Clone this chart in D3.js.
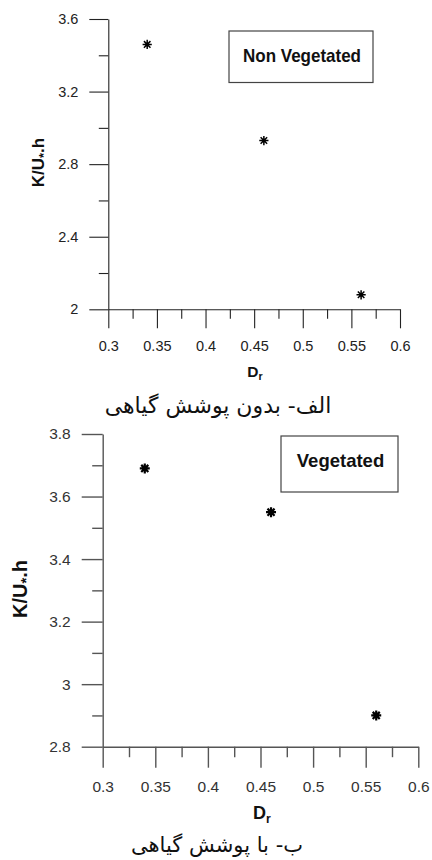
<!DOCTYPE html>
<html>
<head>
<meta charset="utf-8">
<script src="https://cdn.jsdelivr.net/npm/d3@7"></script>
<style>
  html, body { margin: 0; padding: 0; background: #fff; }
  svg { display: block; }
  text { font-family: Arial, "Liberation Sans", sans-serif; }
  .caption { font-family: "DejaVu Sans", sans-serif; }
</style>
</head>
<body>
<svg id="chart" width="432" height="860"></svg>
<script>
// data
const drValues = [0.34, 0.46, 0.56];
const nonVegetated = [3.46, 2.93, 2.08];
const vegetated = [3.69, 3.55, 2.90];

const xMajorTicks = [0.3, 0.35, 0.4, 0.45, 0.5, 0.55, 0.6];
const xMinorTicks = [0.325, 0.375, 0.425, 0.475, 0.525, 0.575];
const yMajorTop = [2, 2.4, 2.8, 3.2, 3.6];
const yMinorTop = [2.2, 2.6, 3.0, 3.4];
const yMajorBottom = [2.8, 3, 3.2, 3.4, 3.6, 3.8];
const yMinorBottom = [2.9, 3.1, 3.3, 3.5, 3.7];

const svg = d3.select("#chart");

// 8 armed asterisk, like the plotting program's marker
const star8 = {
    draw(ctx, size) {
        const r = Math.sqrt(size) / 2;
        for (let i = 0; i < 4; i++) {
            const a = i * Math.PI / 4;
            ctx.moveTo(r * Math.cos(a), r * Math.sin(a));
            ctx.lineTo(-r * Math.cos(a), -r * Math.sin(a));
        }
    }
};

const fmt = d => String(d);

function drawPanel(p) {
    const g = svg.append("g");
    const x = d3.scaleLinear().domain([0.3, 0.6]).range(p.xRange);
    const y = d3.scaleLinear().domain(p.yDomain).range(p.yRange);

    // minor ticks first, then major ticks with labels
    g.append("g")
        .attr("transform", `translate(0,${y(p.yDomain[0])})`)
        .call(d3.axisBottom(x).tickValues(xMinorTicks).tickSize(p.minor).tickFormat(""))
        .call(a => a.select(".domain").remove());
    g.append("g")
        .attr("transform", `translate(0,${y(p.yDomain[0])})`)
        .call(d3.axisBottom(x).tickValues(xMajorTicks).tickSize(p.major)
            .tickSizeOuter(0).tickPadding(p.xPad).tickFormat(fmt));

    g.append("g")
        .attr("transform", `translate(${x(0.3)},0)`)
        .call(d3.axisLeft(y).tickValues(p.yMinor).tickSize(p.minor).tickFormat(""))
        .call(a => a.select(".domain").remove());
    g.append("g")
        .attr("transform", `translate(${x(0.3)},0)`)
        .call(d3.axisLeft(y).tickValues(p.yMajor).tickSize(p.major)
            .tickSizeOuter(0).tickPadding(p.yPad).tickFormat(fmt));

    g.selectAll(".domain, .tick line")
        .attr("stroke", p.axisColor)
        .attr("stroke-width", p.axisWidth);
    g.selectAll(".tick text")
        .attr("fill", p.labelColor)
        .attr("font-size", p.tickFont)
        .attr("font-family", "Arial, 'Liberation Sans', sans-serif");

    // markers
    g.selectAll("path.pt")
        .data(drValues.map((d, i) => ({ x: d, y: p.values[i] })))
        .enter().append("path")
        .attr("class", "pt")
        .attr("transform", d => `translate(${x(d.x)},${y(d.y)})`)
        .attr("d", d3.symbol(star8, p.markerSize))
        .attr("fill", "none")
        .attr("stroke", "#000")
        .attr("stroke-width", p.markerStroke);

    // legend box
    g.append("rect")
        .attr("x", p.box[0]).attr("y", p.box[1])
        .attr("width", p.box[2]).attr("height", p.box[3])
        .attr("fill", "#fff")
        .attr("stroke", "#444")
        .attr("stroke-width", 1.2);
    const lt = g.append("text")
        .attr("x", p.box[0] + p.box[2] / 2 + 1)
        .attr("y", p.legendY)
        .attr("text-anchor", "middle")
        .attr("font-weight", "bold")
        .attr("font-size", p.legendFont)
        .attr("fill", "#111")
        .text(p.legend);
    if (p.legendLen) lt.attr("textLength", p.legendLen).attr("lengthAdjust", "spacingAndGlyphs");

    // y axis title K/U*.h
    const yt = g.append("text")
        .attr("transform", `translate(${p.yTitle[0]},${p.yTitle[1]}) rotate(-90)`)
        .attr("text-anchor", "middle")
        .attr("font-weight", "bold")
        .attr("font-size", p.yTitleFont)
        .attr("fill", "#111");
    yt.append("tspan").text("K/U");
    yt.append("tspan").attr("dy", p.yTitleFont * 0.22).attr("font-size", p.yTitleFont * 0.75).text("*");
    yt.append("tspan").attr("dy", -p.yTitleFont * 0.22).text(".h");

    // x axis title D_r
    const xt = g.append("text")
        .attr("x", p.xTitle[0]).attr("y", p.xTitle[1])
        .attr("text-anchor", "middle")
        .attr("font-weight", "bold")
        .attr("font-size", p.xTitleFont)
        .attr("fill", "#111");
    xt.append("tspan").text("D");
    xt.append("tspan").attr("dy", p.xTitleFont * 0.2).attr("font-size", p.xTitleFont * 0.68).text("r");

    // persian caption
    svg.append("text")
        .attr("class", "caption")
        .attr("x", p.caption[0]).attr("y", p.caption[1])
        .attr("text-anchor", "middle")
        .attr("direction", "rtl")
        .attr("font-size", p.captionFont)
        .attr("fill", "#111")
        .text(p.captionText);
}

drawPanel({
    xRange: [108.3, 400], yDomain: [2, 3.6], yRange: [309.3, 19],
    yMajor: yMajorTop, yMinor: yMinorTop,
    major: 19, minor: 9.5, xPad: 12, yPad: 11,
    axisColor: "#222", axisWidth: 1.1, labelColor: "#222", tickFont: 14.5,
    values: nonVegetated, markerSize: 85, markerStroke: 1.5,
    box: [229, 31, 144, 51.5], legend: "Non Vegetated", legendY: 61.5, legendFont: 19, legendLen: 118,
    yTitle: [44, 162.5], yTitleFont: 17,
    xTitle: [255, 376.7], xTitleFont: 15.5,
    caption: [218, 413], captionFont: 22, captionText: "الف- بدون پوشش گیاهی"
});

drawPanel({
    xRange: [102.7, 418.3], yDomain: [2.8, 3.8], yRange: [746.7, 434],
    yMajor: yMajorBottom, yMinor: yMinorBottom,
    major: 21, minor: 10.5, xPad: 13, yPad: 11,
    axisColor: "#555", axisWidth: 1.4, labelColor: "#333", tickFont: 15.5,
    values: vegetated, markerSize: 100, markerStroke: 2.2,
    box: [281, 436, 117, 56], legend: "Vegetated", legendY: 466.7, legendFont: 18.5, legendLen: null,
    yTitle: [27, 589], yTitleFont: 20,
    xTitle: [262, 819.3], xTitleFont: 18,
    caption: [217, 852], captionFont: 21, captionText: "ب- با پوشش گیاهی"
});
</script>
</body>
</html>
